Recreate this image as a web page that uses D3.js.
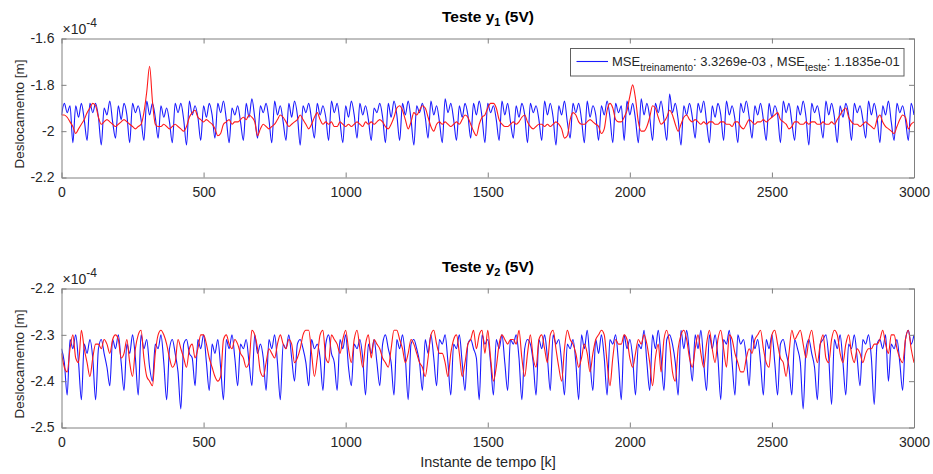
<!DOCTYPE html>
<html><head><meta charset="utf-8">
<script src="https://cdn.jsdelivr.net/npm/d3@7"></script>
<style>
body{margin:0;background:#fff}
svg{display:block}
text{font-family:"Liberation Sans",Arial,Helvetica,sans-serif}
</style>
</head><body>
<svg id="c" width="933" height="474"></svg>
<script>
// ---- data (values in micrometres, i.e. 1e-6 m; one stored point every 10 samples) ----
const sampleStep = 10;
const xTickValues = [0, 500, 1000, 1500, 2000, 2500, 3000];
const y1TickValues = [-2.2, -2, -1.8, -1.6];   // x 1e-4 m
const y2TickValues = [-2.5, -2.4, -2.3, -2.2]; // x 1e-4 m
const titleSubs = ["1", "2"];
const legendTrain = "3.3269e-03";
const legendTest = "1.1835e-01";

const y1Blue = [
-193,-188,-192,-189,-205,-189,-194,-188,-195,-204,
-188,-192,-188,-194,-206,-190,-193,-187,-196,-203,
-189,-195,-188,-193,-205,-188,-192,-189,-195,-204,
-187,-193,-188,-194,-203,-189,-194,-190,-196,-205,
-188,-192,-188,-195,-206,-187,-193,-189,-194,-204,
-189,-194,-188,-193,-203,-188,-192,-187,-195,-205,
-190,-193,-189,-196,-204,-188,-194,-186,-194,-203,
-189,-192,-188,-195,-205,-187,-193,-189,-196,-204,
-188,-194,-187,-193,-206,-189,-192,-188,-195,-203,
-188,-193,-189,-194,-204,-187,-192,-188,-196,-205,
-189,-194,-187,-193,-203,-188,-193,-189,-195,-204,
-190,-192,-188,-194,-205,-188,-194,-187,-193,-204,
-188,-193,-187,-195,-206,-189,-192,-188,-194,-203,
-187,-193,-189,-196,-205,-186,-192,-188,-195,-204,
-189,-194,-188,-193,-203,-188,-193,-187,-194,-205,
-188,-192,-189,-195,-204,-187,-193,-188,-196,-203,
-189,-194,-188,-193,-205,-188,-192,-189,-195,-204,
-187,-193,-188,-194,-206,-189,-193,-187,-196,-203,
-188,-192,-188,-195,-205,-187,-194,-189,-193,-204,
-189,-193,-187,-194,-205,-188,-192,-189,-204,-187,
-193,-188,-195,-205,-186,-193,-188,-194,-204,-188,
-192,-187,-195,-204,-184,-192,-188,-195,-206,-189,
-193,-188,-194,-203,-188,-192,-187,-196,-205,-189,
-194,-188,-193,-204,-187,-193,-189,-195,-205,-188,
-192,-187,-194,-203,-189,-193,-188,-195,-204,-188,
-194,-189,-193,-205,-187,-192,-188,-196,-204,-189,
-193,-187,-194,-206,-188,-192,-189,-195,-203,-187,
-193,-188,-194,-205,-189,-194,-188,-193,-204,-188,
-192,-189,-195,-203,-187,-193,-188,-194,-205,-189,
-193,-187,-196,-204,-188,-192,-189,-195,-204,-188,
-193];

const y1Red = [
-193,-193,-194,-196,-198,-201,-199,-197,-195,-192,
-190,-188,-189,-194,-197,-196,-195,-196,-197,-198,
-197,-196,-195,-196,-197,-198,-199,-198,-197,-192,
-183,-172,-187,-197,-198,-198,-197,-198,-199,-198,
-197,-198,-199,-200,-198,-194,-192,-191,-194,-195,
-196,-195,-196,-197,-199,-202,-201,-197,-196,-195,
-197,-196,-196,-195,-194,-195,-193,-194,-196,-202,
-199,-197,-198,-199,-198,-197,-195,-193,-194,-196,
-198,-197,-196,-195,-193,-195,-197,-199,-197,-194,
-192,-195,-197,-196,-197,-196,-198,-198,-196,-197,
-198,-197,-198,-197,-196,-197,-198,-196,-197,-196,
-197,-196,-195,-196,-198,-199,-197,-194,-190,-189,
-191,-195,-199,-196,-192,-193,-191,-189,-190,-194,
-198,-200,-197,-196,-197,-196,-197,-198,-197,-196,
-197,-195,-193,-194,-197,-200,-202,-197,-194,-193,
-190,-188,-188,-190,-195,-197,-198,-198,-197,-196,
-197,-196,-194,-193,-196,-198,-199,-198,-197,-197,
-198,-197,-198,-197,-196,-197,-199,-203,-202,-195,
-192,-193,-196,-197,-197,-196,-195,-196,-197,-198,
-201,-199,-191,-188,-190,-195,-196,-196,-194,-191,
-185,-180,-186,-196,-200,-200,-198,-194,-189,-190,
-194,-197,-196,-194,-191,-193,-197,-200,-197,-194,
-193,-195,-196,-195,-196,-197,-196,-197,-196,-196,
-197,-197,-196,-196,-197,-197,-198,-196,-196,-198,
-199,-197,-195,-196,-197,-196,-196,-195,-196,-195,
-194,-193,-192,-195,-196,-197,-199,-198,-196,-196,
-197,-197,-196,-197,-196,-196,-197,-197,-196,-197,
-197,-196,-197,-195,-193,-191,-190,-194,-196,-197,
-197,-198,-197,-196,-197,-198,-199,-195,-193,-196,
-198,-199,-200,-201,-198,-195,-193,-194,-199,-197,
-196];

const y2Blue = [
-233,-236,-243,-231,-233,-230,-236,-244,-232,-234,
-231,-235,-244,-233,-231,-234,-237,-241,-231,-233,
-230,-236,-242,-232,-234,-230,-235,-243,-230,-233,
-231,-237,-240,-232,-233,-230,-236,-244,-233,-231,
-234,-238,-246,-232,-231,-234,-235,-241,-231,-233,
-230,-236,-242,-232,-234,-231,-237,-244,-231,-233,
-230,-235,-241,-232,-233,-231,-236,-241,-230,-234,
-232,-235,-242,-231,-233,-230,-236,-244,-232,-233,
-230,-235,-240,-232,-231,-233,-236,-241,-231,-233,
-232,-235,-242,-232,-230,-234,-236,-242,-231,-233,
-230,-237,-241,-232,-233,-231,-235,-243,-232,-234,
-231,-236,-241,-232,-230,-233,-236,-243,-231,-233,
-230,-235,-244,-232,-231,-233,-236,-242,-231,-234,
-230,-235,-241,-231,-232,-230,-236,-243,-232,-233,
-230,-236,-242,-232,-231,-233,-235,-244,-230,-232,
-231,-236,-243,-231,-233,-230,-236,-242,-231,-232,
-230,-235,-244,-233,-231,-232,-236,-243,-231,-233,
-230,-235,-242,-230,-232,-231,-236,-243,-232,-233,
-231,-236,-244,-230,-233,-229,-236,-242,-231,-234,
-230,-235,-243,-231,-232,-230,-236,-244,-230,-233,
-231,-235,-243,-232,-233,-229,-236,-242,-230,-233,
-229,-235,-242,-231,-230,-232,-236,-243,-229,-233,
-229,-234,-240,-230,-233,-229,-236,-242,-230,-233,
-230,-235,-244,-231,-232,-229,-236,-243,-230,-232,
-231,-235,-241,-230,-233,-231,-236,-243,-231,-233,
-230,-236,-243,-232,-231,-234,-237,-243,-231,-233,
-236,-246,-233,-231,-234,-237,-244,-232,-231,-230,
-235,-245,-231,-233,-230,-236,-243,-232,-233,-230,
-235,-241,-231,-232,-230,-235,-245,-232,-231,-233,
-230,-240,-232,-233,-231,-236,-242,-231,-229,-232,
-230];

const y2Red = [
-234,-237,-238,-233,-230,-235,-236,-229,-233,-236,
-239,-235,-232,-232,-233,-231,-232,-234,-231,-230,
-231,-235,-234,-231,-236,-239,-233,-230,-229,-235,
-239,-240,-241,-234,-230,-229,-230,-232,-235,-237,
-236,-231,-233,-235,-237,-233,-232,-235,-233,-230,
-230,-232,-235,-237,-239,-240,-239,-231,-230,-232,
-233,-231,-232,-234,-235,-237,-236,-229,-230,-233,
-238,-239,-236,-233,-234,-235,-232,-230,-232,-233,
-231,-232,-236,-235,-233,-230,-229,-229,-234,-239,
-235,-230,-229,-235,-236,-230,-231,-232,-234,-231,
-229,-233,-236,-231,-229,-233,-237,-232,-230,-235,
-231,-232,-233,-235,-236,-237,-233,-229,-229,-231,
-233,-236,-234,-231,-232,-234,-236,-237,-239,-235,
-230,-229,-232,-234,-234,-236,-239,-234,-231,-230,
-234,-239,-236,-232,-231,-229,-233,-230,-229,-234,
-229,-235,-240,-237,-232,-230,-231,-232,-231,-231,
-232,-229,-235,-239,-234,-230,-235,-237,-231,-230,
-233,-236,-230,-229,-233,-237,-240,-233,-229,-231,
-232,-234,-237,-235,-232,-234,-238,-234,-231,-230,
-229,-230,-236,-241,-235,-231,-232,-232,-230,-231,
-235,-237,-234,-231,-232,-230,-232,-236,-241,-235,
-232,-238,-231,-229,-232,-238,-240,-233,-230,-229,
-231,-235,-237,-233,-230,-234,-237,-232,-229,-233,
-236,-231,-229,-233,-237,-230,-231,-234,-236,-238,
-238,-235,-233,-234,-231,-230,-229,-233,-236,-237,
-230,-229,-232,-235,-236,-239,-234,-229,-231,-230,
-229,-232,-235,-231,-229,-233,-236,-232,-230,-235,
-236,-231,-229,-230,-234,-236,-232,-230,-234,-236,
-233,-234,-236,-234,-233,-233,-232,-232,-231,-229,
-232,-234,-230,-230,-233,-235,-236,-231,-229,-233,
-236];

// ---- drawing ----
const svg = d3.select("#c");
const L = 61.5, R = 914;
const axisColor = "#808080", textColor = "#262626";
const blueColor = "#1a1aff", redColor = "#ff1a1a";
const x = d3.scaleLinear().domain([0, 3000]).range([L, R]);

const panels = [
  {top: 38.5, bottom: 177.5, domain: [-2.2, -1.6], ticks: y1TickValues, blue: y1Blue, red: y1Red, sub: titleSubs[0], titleY: 22, expY: 34, ylabY: 114},
  {top: 288.5, bottom: 427.5, domain: [-2.5, -2.2], ticks: y2TickValues, blue: y2Blue, red: y2Red, sub: titleSubs[1], titleY: 272, expY: 284, ylabY: 364}
];

panels.forEach((p, pi) => {
  const y = d3.scaleLinear().domain(p.domain).range([p.bottom, p.top]);
  const g = svg.append("g");
  const clipId = "clip" + pi;
  svg.append("clipPath").attr("id", clipId).append("rect")
    .attr("x", L).attr("y", p.top).attr("width", R - L).attr("height", p.bottom - p.top);

  const line = d3.line().curve(d3.curveMonotoneX)
    .x((d, i) => x(i * sampleStep)).y(d => y(d / 100));
  g.append("path").datum(p.blue).attr("d", line).attr("fill", "none")
    .attr("stroke", blueColor).attr("stroke-width", 1.1).attr("stroke-linejoin", "round")
    .attr("clip-path", `url(#${clipId})`);
  g.append("path").datum(p.red).attr("d", line).attr("fill", "none")
    .attr("stroke", redColor).attr("stroke-width", 1.1).attr("stroke-linejoin", "round")
    .attr("clip-path", `url(#${clipId})`);

  const fmt = d => String(d);
  const axB = g.append("g").attr("transform", `translate(0,${p.bottom})`)
    .call(d3.axisBottom(x).tickValues(xTickValues).tickSizeInner(-5).tickSizeOuter(0).tickPadding(10).tickFormat(fmt));
  const axT = g.append("g").attr("transform", `translate(0,${p.top})`)
    .call(d3.axisTop(x).tickValues(xTickValues).tickSizeInner(-5).tickSizeOuter(0).tickFormat(""));
  const axL = g.append("g").attr("transform", `translate(${L},0)`)
    .call(d3.axisLeft(y).tickValues(p.ticks).tickSizeInner(-5).tickSizeOuter(0).tickPadding(7).tickFormat(fmt));
  const axR = g.append("g").attr("transform", `translate(${R},0)`)
    .call(d3.axisRight(y).tickValues(p.ticks).tickSizeInner(-5).tickSizeOuter(0).tickFormat(""));
  [axB, axT, axL, axR].forEach(a => {
    a.selectAll("path.domain").attr("stroke", axisColor);
    a.selectAll(".tick line").attr("stroke", axisColor);
    a.selectAll("text").attr("fill", textColor).attr("font-size", 14)
      .attr("font-family", '"Liberation Sans", Arial, sans-serif');
    a.attr("font-family", null);
  });

  // exponent label
  const ex = svg.append("text").attr("x", L + 1).attr("y", p.expY).attr("fill", textColor).attr("font-size", 14);
  ex.append("tspan").text("\u00d710");
  ex.append("tspan").attr("font-size", 12).attr("dy", -7).text("-4");

  // title
  const t = svg.append("text").attr("x", 488).attr("y", p.titleY).attr("text-anchor", "middle")
    .attr("font-weight", "bold").attr("font-size", 15.5).attr("fill", "#000");
  t.append("tspan").text("Teste y");
  t.append("tspan").attr("font-size", 11).attr("dy", 4).text(p.sub);
  t.append("tspan").attr("dy", -4).text(" (5V)");

  // y label
  svg.append("text").attr("transform", `translate(24,${p.ylabY}) rotate(-90)`)
    .attr("text-anchor", "middle").attr("font-size", 13.5).attr("fill", textColor)
    .text("Deslocamento [m]");
});

// x label
svg.append("text").attr("x", 488).attr("y", 467).attr("text-anchor", "middle")
  .attr("font-size", 14.5).attr("fill", textColor).text("Instante de tempo [k]");

// legend
const lg = svg.append("g");
lg.append("rect").attr("x", 570.5).attr("y", 48.5).attr("width", 333.5).attr("height", 27.5)
  .attr("fill", "#fff").attr("stroke", "#606060").attr("stroke-width", 1);
lg.append("line").attr("x1", 576.5).attr("x2", 608).attr("y1", 61.5).attr("y2", 61.5)
  .attr("stroke", blueColor).attr("stroke-width", 1.1);
const lt = lg.append("text").attr("x", 612).attr("y", 65.5).attr("font-size", 13).attr("fill", textColor);
lt.append("tspan").text("MSE");
lt.append("tspan").attr("font-size", 10).attr("dy", 5).text("treinamento");
lt.append("tspan").attr("dy", -5).text(": " + legendTrain + " , MSE");
lt.append("tspan").attr("font-size", 10).attr("dy", 5).text("teste");
lt.append("tspan").attr("dy", -5).text(": " + legendTest);
</script>
</body></html>
